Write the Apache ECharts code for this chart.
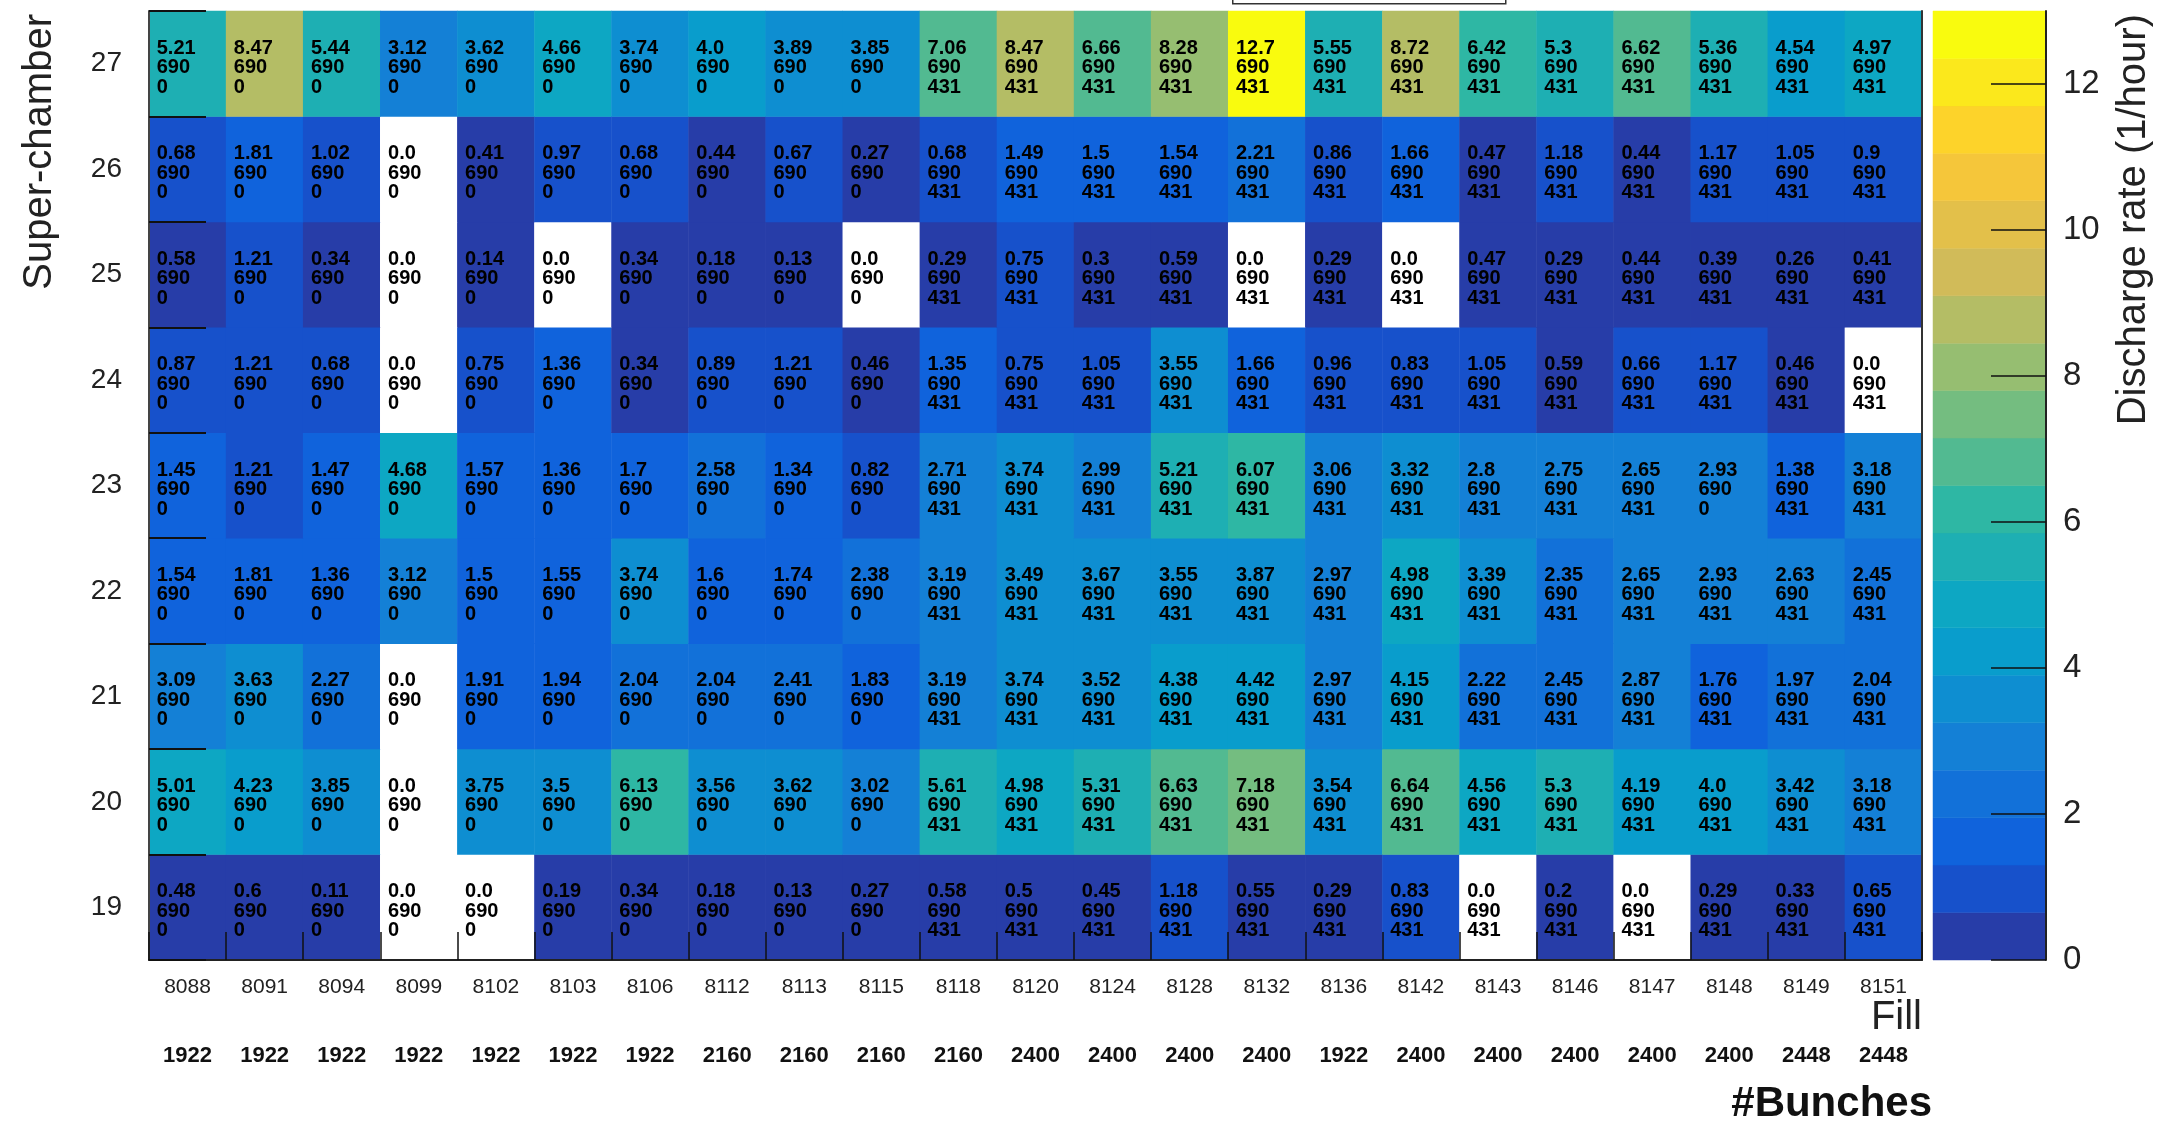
<!DOCTYPE html>
<html>
<head>
<meta charset="utf-8">
<title>Discharge rate per super-chamber and fill</title>
<script src="https://cdn.jsdelivr.net/npm/echarts@6/dist/echarts.min.js"></script>
<style>
  html, body { margin: 0; padding: 0; background: #ffffff; }
  #chart { width: 2161px; height: 1121px; }
</style>
</head>
<body>
<div id="chart"></div>
<script>
// LHC fills (x categories) and number of bunches in each fill
const fills = [8088, 8091, 8094, 8099, 8102, 8103, 8106, 8112, 8113, 8115, 8118, 8120,
               8124, 8128, 8132, 8136, 8142, 8143, 8146, 8147, 8148, 8149, 8151];
const bunches = [1922, 1922, 1922, 1922, 1922, 1922, 1922, 2160, 2160, 2160, 2160, 2400,
                 2400, 2400, 2400, 1922, 2400, 2400, 2400, 2400, 2400, 2448, 2448];

// super-chambers (y categories, bottom to top)
const chambers = [19, 20, 21, 22, 23, 24, 25, 26, 27];

// discharge rate (1/hour), one array per super-chamber, in fill order
const rates19 = [0.48, 0.6, 0.11, 0.0, 0.0, 0.19, 0.34, 0.18, 0.13, 0.27, 0.58, 0.5,
                 0.45, 1.18, 0.55, 0.29, 0.83, 0.0, 0.2, 0.0, 0.29, 0.33, 0.65];
const rates20 = [5.01, 4.23, 3.85, 0.0, 3.75, 3.5, 6.13, 3.56, 3.62, 3.02, 5.61, 4.98,
                 5.31, 6.63, 7.18, 3.54, 6.64, 4.56, 5.3, 4.19, 4.0, 3.42, 3.18];
const rates21 = [3.09, 3.63, 2.27, 0.0, 1.91, 1.94, 2.04, 2.04, 2.41, 1.83, 3.19, 3.74,
                 3.52, 4.38, 4.42, 2.97, 4.15, 2.22, 2.45, 2.87, 1.76, 1.97, 2.04];
const rates22 = [1.54, 1.81, 1.36, 3.12, 1.5, 1.55, 3.74, 1.6, 1.74, 2.38, 3.19, 3.49,
                 3.67, 3.55, 3.87, 2.97, 4.98, 3.39, 2.35, 2.65, 2.93, 2.63, 2.45];
const rates23 = [1.45, 1.21, 1.47, 4.68, 1.57, 1.36, 1.7, 2.58, 1.34, 0.82, 2.71, 3.74,
                 2.99, 5.21, 6.07, 3.06, 3.32, 2.8, 2.75, 2.65, 2.93, 1.38, 3.18];
const rates24 = [0.87, 1.21, 0.68, 0.0, 0.75, 1.36, 0.34, 0.89, 1.21, 0.46, 1.35, 0.75,
                 1.05, 3.55, 1.66, 0.96, 0.83, 1.05, 0.59, 0.66, 1.17, 0.46, 0.0];
const rates25 = [0.58, 1.21, 0.34, 0.0, 0.14, 0.0, 0.34, 0.18, 0.13, 0.0, 0.29, 0.75,
                 0.3, 0.59, 0.0, 0.29, 0.0, 0.47, 0.29, 0.44, 0.39, 0.26, 0.41];
const rates26 = [0.68, 1.81, 1.02, 0.0, 0.41, 0.97, 0.68, 0.44, 0.67, 0.27, 0.68, 1.49,
                 1.5, 1.54, 2.21, 0.86, 1.66, 0.47, 1.18, 0.44, 1.17, 1.05, 0.9];
const rates27 = [5.21, 8.47, 5.44, 3.12, 3.62, 4.66, 3.74, 4.0, 3.89, 3.85, 7.06, 8.47,
                 6.66, 8.28, 12.7, 5.55, 8.72, 6.42, 5.3, 6.62, 5.36, 4.54, 4.97];

// second and third numbers printed in every cell
const secondLine = [690, 690, 690, 690, 690, 690, 690, 690, 690, 690, 690, 690,
                    690, 690, 690, 690, 690, 690, 690, 690, 690, 690, 690];
const third19 = [0, 0, 0, 0, 0, 0, 0, 0, 0, 0, 431, 431, 431, 431, 431, 431, 431, 431, 431, 431, 431, 431, 431];
const third20 = [0, 0, 0, 0, 0, 0, 0, 0, 0, 0, 431, 431, 431, 431, 431, 431, 431, 431, 431, 431, 431, 431, 431];
const third21 = [0, 0, 0, 0, 0, 0, 0, 0, 0, 0, 431, 431, 431, 431, 431, 431, 431, 431, 431, 431, 431, 431, 431];
const third22 = [0, 0, 0, 0, 0, 0, 0, 0, 0, 0, 431, 431, 431, 431, 431, 431, 431, 431, 431, 431, 431, 431, 431];
const third23 = [0, 0, 0, 0, 0, 0, 0, 0, 0, 0, 431, 431, 431, 431, 431, 431, 431, 431, 431, 431, 0, 431, 431];
const third24 = [0, 0, 0, 0, 0, 0, 0, 0, 0, 0, 431, 431, 431, 431, 431, 431, 431, 431, 431, 431, 431, 431, 431];
const third25 = [0, 0, 0, 0, 0, 0, 0, 0, 0, 0, 431, 431, 431, 431, 431, 431, 431, 431, 431, 431, 431, 431, 431];
const third26 = [0, 0, 0, 0, 0, 0, 0, 0, 0, 0, 431, 431, 431, 431, 431, 431, 431, 431, 431, 431, 431, 431, 431];
const third27 = [0, 0, 0, 0, 0, 0, 0, 0, 0, 0, 431, 431, 431, 431, 431, 431, 431, 431, 431, 431, 431, 431, 431];

// colour scale: 20 contour levels over 0..13, labelled every 2
const rateMin = 0;
const rateMax = 13;
const nLevels = 20;
const rateTicks = [0, 2, 4, 6, 8, 10, 12];

const rateRows = [rates19, rates20, rates21, rates22, rates23, rates24, rates25, rates26, rates27];
const thirdRows = [third19, third20, third21, third22, third23, third24, third25, third26, third27];

// "bird" palette (parula-like) used for the contour bands
const birdStops = [0.0, 0.125, 0.25, 0.375, 0.5, 0.625, 0.75, 0.875, 1.0];
const birdR = [0.2082, 0.0592, 0.0780, 0.0232, 0.1802, 0.5301, 0.8186, 0.9956, 0.9764];
const birdG = [0.1664, 0.3599, 0.5041, 0.6419, 0.7178, 0.7492, 0.7328, 0.7862, 0.9832];
const birdB = [0.5293, 0.8684, 0.8385, 0.7914, 0.6425, 0.4662, 0.3499, 0.1968, 0.0539];

function bird(t) {
  let i = 0;
  while (i < birdStops.length - 2 && t > birdStops[i + 1]) i++;
  const f = (t - birdStops[i]) / (birdStops[i + 1] - birdStops[i]);
  const ch = (arr) => Math.round(255 * (arr[i] + f * (arr[i + 1] - arr[i])));
  return 'rgb(' + ch(birdR) + ',' + ch(birdG) + ',' + ch(birdB) + ')';
}

const levelStep = (rateMax - rateMin) / nLevels;
const levels = [];
const levelColors = [];
for (let i = 0; i < nLevels; i++) {
  levels.push([rateMin + i * levelStep, rateMin + (i + 1) * levelStep]);
  const k = Math.floor((i + 0.99) * 255 / nLevels);
  levelColors.push(bird(k / 254));
}

// empty bins stay white, the rest take the colour of their band
const pieces = [{ value: 0, color: '#ffffff' }].concat(levels.map((lv, i) => (
  i === nLevels - 1
    ? { gte: lv[0], lte: lv[1], color: levelColors[i] }
    : { gte: lv[0], lt: lv[1], color: levelColors[i] }
)));

const cells = [];
rateRows.forEach((row, r) => {
  row.forEach((v, c) => {
    cells.push([c, r, v, secondLine[c], thirdRows[r][c]]);
  });
});

function fmtRate(v) {
  return Number.isInteger(v) ? v.toFixed(1) : String(v);
}

const textFont = '"Liberation Sans", Arial, Helvetica, sans-serif';

const chart = echarts.init(document.getElementById('chart'), null, { renderer: 'canvas' });

chart.setOption({
  backgroundColor: '#ffffff',
  animation: false,
  grid: [
    { left: 149, right: 239, top: 11, bottom: 161, show: false },
    { left: 1933, right: 115, top: 11, bottom: 161, show: false }
  ],
  visualMap: {
    type: 'piecewise',
    show: false,
    seriesIndex: 0,
    dimension: 2,
    pieces: pieces
  },
  xAxis: [
    {
      type: 'category', gridIndex: 0, data: fills, position: 'bottom', z: 10,
      axisLine: { show: true, lineStyle: { color: '#222', width: 2 } },
      axisTick: { show: true, inside: true, length: 28, lineStyle: { color: '#111', width: 1.5 } },
      axisLabel: { fontFamily: textFont, fontSize: 21, color: '#222', margin: 17, interval: 0 },
      splitLine: { show: false }
    },
    {
      type: 'category', gridIndex: 0, data: fills, position: 'bottom', offset: 78,
      axisLine: { show: false }, axisTick: { show: false },
      axisLabel: {
        fontFamily: textFont, fontSize: 22, fontWeight: 'bold', color: '#111', margin: 7, interval: 0,
        formatter: (value, index) => String(bunches[index])
      },
      splitLine: { show: false }
    },
    { type: 'value', gridIndex: 1, min: 0, max: 1, show: false }
  ],
  yAxis: [
    {
      type: 'category', gridIndex: 0, data: chambers, position: 'left', z: 10,
      axisLine: { show: true, lineStyle: { color: '#444', width: 2 } },
      axisTick: { show: true, inside: true, length: 57, lineStyle: { color: '#111', width: 2 } },
      axisLabel: { fontFamily: textFont, fontSize: 28, color: '#222', margin: 27 },
      splitLine: { show: false }
    },
    {
      type: 'category', gridIndex: 0, data: chambers, position: 'right', z: 10,
      axisLine: { show: true, lineStyle: { color: '#333', width: 2 } },
      axisTick: { show: false }, axisLabel: { show: false }, splitLine: { show: false }
    },
    {
      type: 'value', gridIndex: 1, min: rateMin, max: rateMax, position: 'right', z: 10,
      axisLine: { show: true, onZero: false, lineStyle: { color: '#222', width: 2 } },
      axisTick: { show: true, inside: true, length: 55, customValues: rateTicks, lineStyle: { color: '#111', width: 1.5 } },
      axisLabel: { fontFamily: textFont, fontSize: 33, color: '#222', margin: 17, customValues: rateTicks },
      splitLine: { show: false }
    }
  ],
  series: [
    {
      name: 'Discharge rate',
      type: 'heatmap',
      xAxisIndex: 0,
      yAxisIndex: 0,
      data: cells,
      itemStyle: { borderWidth: 0 },
      emphasis: { disabled: true },
      label: {
        show: true,
        position: 'insideLeft',
        distance: 8,
        offset: [0, 4],
        align: 'left',
        fontFamily: textFont,
        fontWeight: 'bold',
        fontSize: 20,
        lineHeight: 19.5,
        color: '#000',
        formatter: (p) => fmtRate(p.value[2]) + '\n' + p.value[3] + '\n' + p.value[4]
      }
    },
    {
      name: 'Palette',
      type: 'custom',
      xAxisIndex: 2,
      yAxisIndex: 2,
      data: levels,
      silent: true,
      renderItem: (params, api) => {
        const lo = api.value(0);
        const hi = api.value(1);
        const p0 = api.coord([0, lo]);
        const p1 = api.coord([1, hi]);
        const color = levelColors[params.dataIndex];
        return {
          type: 'rect',
          shape: { x: p0[0], y: p1[1], width: p1[0] - p0[0], height: p0[1] - p1[1] },
          style: { fill: color, stroke: color, lineWidth: 0.5 }
        };
      }
    }
  ],
  graphic: [
    {
      type: 'rect', left: 1232, top: -20,
      shape: { width: 273, height: 23 },
      style: { fill: '#ffffff', stroke: '#333', lineWidth: 1.5 }
    },
    {
      type: 'text', x: 40, y: 14, rotation: Math.PI / 2,
      style: { text: 'Super-chamber', fontFamily: textFont, fontSize: 40, fill: '#222', align: 'right', verticalAlign: 'middle' }
    },
    {
      type: 'text', x: 2134, y: 14, rotation: Math.PI / 2,
      style: { text: 'Discharge rate (1/hour)', fontFamily: textFont, fontSize: 40, fill: '#222', align: 'right', verticalAlign: 'middle' }
    },
    {
      type: 'text', x: 1922, y: 1018,
      style: { text: 'Fill', fontFamily: textFont, fontSize: 40, fill: '#222', align: 'right', verticalAlign: 'middle' }
    },
    {
      type: 'text', x: 1932, y: 1104,
      style: { text: '#Bunches', fontFamily: textFont, fontSize: 42, fontWeight: 'bold', fill: '#111', align: 'right', verticalAlign: 'middle' }
    }
  ]
});
</script>
</body>
</html>
